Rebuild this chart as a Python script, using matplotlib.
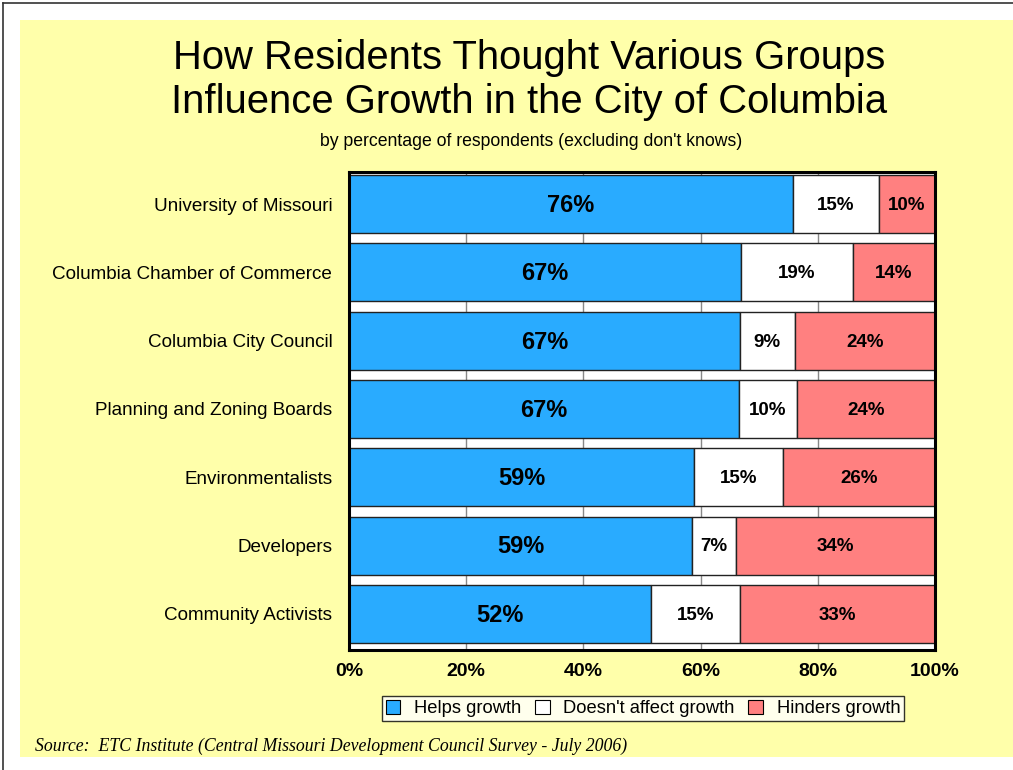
import matplotlib
matplotlib.use("Agg")
import matplotlib.pyplot as plt
from matplotlib.patches import Rectangle, Patch
from matplotlib.lines import Line2D
import numpy as np

categories = ["University of Missouri", "Columbia Chamber of Commerce",
              "Columbia City Council", "Planning and Zoning Boards",
              "Environmentalists", "Developers", "Community Activists"]
helps = [75.8, 66.9, 66.7, 66.6, 58.9, 58.6, 51.6]
no_effect = [14.6, 19.1, 9.4, 9.8, 15.2, 7.4, 15.1]
hinders = [9.6, 14.0, 23.9, 23.6, 25.9, 34.0, 33.3]
series_names = ["Helps growth", "Doesn't affect growth", "Hinders growth"]
xticks = [0, 20, 40, 60, 80, 100]
xtick_labels = ["0%", "20%", "40%", "60%", "80%", "100%"]

colors = ["#29ABFF", "#FFFFFF", "#FF8080"]

W, H = 1013, 770
fig = plt.figure(figsize=(W / 100, H / 100), dpi=100)
fig.patch.set_facecolor("white")

# yellow panel and border lines
fig.add_artist(Rectangle((20 / W, 1 - 757 / H), (W - 20) / W, (757 - 20) / H,
                         transform=fig.transFigure, facecolor="#FFFFAA",
                         edgecolor="none", zorder=-10))
fig.add_artist(Line2D([3 / W, 1], [1 - 3 / H, 1 - 3 / H], transform=fig.transFigure,
                      color="#333333", lw=1.2))
fig.add_artist(Line2D([3 / W, 3 / W], [0, 1 - 3 / H], transform=fig.transFigure,
                      color="#333333", lw=1.2))

ax = fig.add_axes([349 / W, 1 - 650 / H, 586 / W, 478 / H])
ax.set_facecolor("white")
y = np.arange(len(categories))
h = 0.85
left = np.zeros(len(categories))
for vals, col in zip([helps, no_effect, hinders], colors):
    vals = np.array(vals)
    ax.barh(y, vals, left=left, height=h, color=col, edgecolor="#222222",
            linewidth=1.0, zorder=2)
    for yi, l, v in zip(y, left, vals):
        big = col == colors[0]
        ax.text(l + v / 2, yi + 0.02, f"{v:.0f}%", ha="center", va="center",
                fontsize=17 if big else 13.5, fontweight="bold",
                family="Liberation Sans", zorder=3)
    left = left + vals

for xv in xticks[1:-1]:
    ax.axvline(xv, color="#888888", lw=1, zorder=1)

ax.set_xlim(0, 100)
ax.set_ylim(6.53, -0.47)
ax.set_yticks(y)
ax.set_yticklabels(categories, fontsize=13.6, family="Liberation Sans")
ax.set_xticks(xticks)
ax.set_xticklabels(xtick_labels, fontsize=14, fontweight="bold",
                   family="Liberation Sans")
ax.tick_params(axis="both", length=0)
ax.tick_params(axis="y", pad=12)
ax.tick_params(axis="x", pad=9)
for s in ax.spines.values():
    s.set_linewidth(2.2)
    s.set_color("black")

fig.text(529 / W, 1 - 80 / H,
         "How Residents Thought Various Groups\nInfluence Growth in the City of Columbia",
         ha="center", va="center", fontsize=28.8, family="Liberation Sans",
         linespacing=1.17)
fig.text(531 / W, 1 - 141 / H,
         "by percentage of respondents (excluding don't knows)",
         ha="center", va="center", fontsize=12.7, family="Liberation Sans")

handles = [Patch(facecolor=c, edgecolor="black", linewidth=0.8) for c in colors]
leg = fig.legend(handles, series_names, loc="center",
                 bbox_to_anchor=(643 / W, 1 - 708.5 / H), ncol=3,
                 frameon=True, fancybox=False, edgecolor="black",
                 prop={"family": "Liberation Sans", "size": 13.2},
                 handlelength=0.8, handleheight=0.8, handletextpad=0.75,
                 columnspacing=0.75, borderpad=0.2, borderaxespad=0)
leg.get_frame().set_linewidth(1.0)

fig.text(35 / W, 1 - 746 / H,
         "Source:  ETC Institute (Central Missouri Development Council Survey - July 2006)",
         ha="left", va="center", fontsize=12.8, style="italic",
         family="Liberation Serif")

fig.savefig("out.png", dpi=100)
